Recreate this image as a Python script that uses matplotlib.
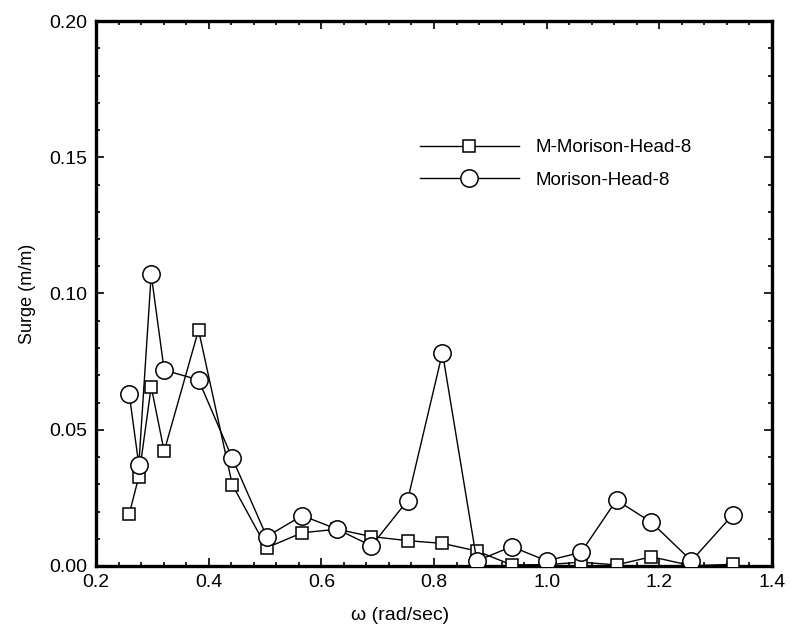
import matplotlib
matplotlib.use("Agg")
import matplotlib.pyplot as plt
from matplotlib.ticker import MultipleLocator

# Respuesta en surge frente a la frecuencia (dos modelos de Morison)
omega = [0.259, 0.276, 0.298, 0.321, 0.382, 0.442, 0.503, 0.566, 0.628, 0.689,
         0.753, 0.815, 0.876, 0.938, 1.000, 1.061, 1.124, 1.186, 1.257, 1.330]

surge_m_morison = [0.0191, 0.0328, 0.0658, 0.0421, 0.0866, 0.0298, 0.0067, 0.0122,
                   0.0135, 0.0108, 0.0093, 0.0083, 0.0055, 0.0004, 0.0005, 0.0014,
                   0.0004, 0.0034, 0.0001, 0.0006]

surge_morison = [0.0631, 0.0371, 0.1070, 0.0719, 0.0683, 0.0395, 0.0108, 0.0185,
                 0.0135, 0.0074, 0.0240, 0.0783, 0.0019, 0.0071, 0.0019, 0.0050,
                 0.0242, 0.0160, 0.0019, 0.0187]

etiquetas = ["M-Morison-Head-8", "Morison-Head-8"]

plt.rcParams["font.family"] = ["Liberation Sans", "DejaVu Sans"]

fig = plt.figure(figsize=(7.91, 6.38), dpi=100)
ax = fig.add_axes([96 / 791, 1 - 566 / 638, 676 / 791, 545 / 638])

ax.plot(omega, surge_m_morison, color="black", linewidth=1.0, marker="s",
        markersize=8, markerfacecolor="white", markeredgecolor="black",
        markeredgewidth=1.1, label=etiquetas[0], zorder=3)
ax.plot(omega, surge_morison, color="black", linewidth=1.0, marker="o",
        markersize=12.5, markerfacecolor="white", markeredgecolor="black",
        markeredgewidth=1.1, label=etiquetas[1], zorder=4)

ax.set_xlim(0.2, 1.4)
ax.set_ylim(0.0, 0.20)
ax.xaxis.set_major_locator(MultipleLocator(0.2))
ax.xaxis.set_minor_locator(MultipleLocator(0.04))
ax.yaxis.set_major_locator(MultipleLocator(0.05))
ax.yaxis.set_minor_locator(MultipleLocator(0.01))
ax.xaxis.set_major_formatter(plt.FuncFormatter(lambda v, p: f"{v:.1f}"))
ax.yaxis.set_major_formatter(plt.FuncFormatter(lambda v, p: f"{v:.2f}"))

for s in ax.spines.values():
    s.set_linewidth(2.4)
ax.tick_params(which="both", direction="in", top=True, right=True,
               width=1.2, labelsize=14, pad=6)
ax.tick_params(which="major", length=6)
ax.tick_params(which="minor", length=3)

ax.set_xlabel("ω (rad/sec)", fontsize=14)
ax.xaxis.set_label_coords(0.45, -0.075)
ax.set_ylabel("Surge (m/m)", fontsize=13, labelpad=10)

ax.legend(loc="upper left", bbox_to_anchor=(0.465, 0.80), frameon=False,
          handlelength=5.3, handletextpad=0.9, labelspacing=0.8,
          borderpad=0, fontsize=13.5)

fig.savefig("out.png", dpi=100)
